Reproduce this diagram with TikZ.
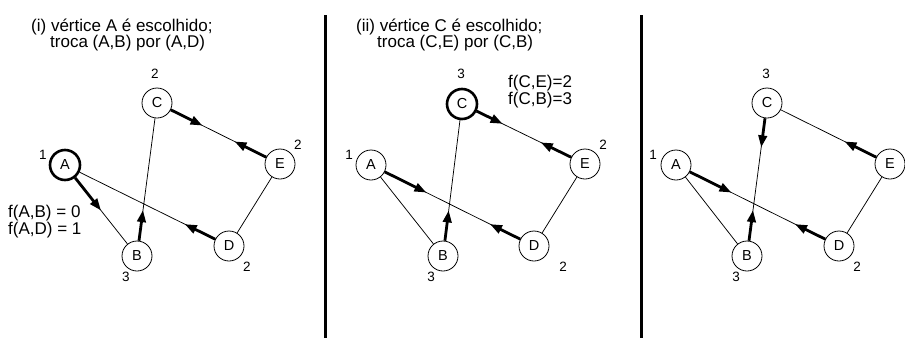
\documentclass[tikz,border=0pt]{standalone}
\usepackage{fontspec}
\setmainfont{Liberation Sans}
\usetikzlibrary{calc,arrows.meta}
\begin{document}
\begin{tikzpicture}[x=1pt,y=-1pt,
  vtx/.style={circle,draw,line width=0.8pt,minimum size=30pt,inner sep=0pt,font=\fontsize{14.5}{14.5}\selectfont},
  chosen/.style={line width=2.6pt},
  edge/.style={line width=0.75pt},
  half/.style={line width=2.8pt,-{Triangle[length=12pt,width=8.5pt]}},
  num/.style={font=\fontsize{13.5}{13.5}\selectfont,inner sep=0pt},
  txt/.style={font=\fontsize{17}{17}\selectfont,inner sep=0pt,anchor=west},
  divider/.style={line width=3pt}]
\useasboundingbox (0,0) rectangle (905,338);

% ---------- panel 1 ----------
\node[txt] (t1a) at (31,27) {(i) vértice A é escolhido;};
\node[txt] (t1b) at (50,43) {troca (A,B) por (A,D)};
\node[vtx,chosen] (a1) at (65,165) {A};
\node[vtx] (b1) at (137,256) {B};
\node[vtx] (c1) at (157,103) {C};
\node[vtx] (d1) at (229,246) {D};
\node[vtx] (e1) at (280,164) {E};
\draw[edge] (a1)--(b1) (b1)--(c1) (c1)--(e1) (e1)--(d1) (d1)--(a1);
\draw[half] (a1) -- ($(a1)!0.5!(b1)$);
\draw[half] (b1) -- ($(b1)!0.3!(c1)$);
\draw[half] (c1) -- ($(c1)!0.37!(e1)$);
\draw[half] (e1) -- ($(e1)!0.37!(c1)$);
\draw[half] (d1) -- ($(d1)!0.27!(a1)$);
\node[num] (na1) at (43,155) {1};
\node[num] (nb1) at (126,277) {3};
\node[num] (nc1) at (155,74) {2};
\node[num] (nd1) at (247,267) {2};
\node[num] (ne1) at (298,145) {2};
\node[txt] (f1a) at (8,213) {f(A,B) = 0};
\node[txt] (f1b) at (8,230) {f(A,D) = 1};

% ---------- divider 1 ----------
\coordinate (v1t) at (325,15);
\coordinate (v1b) at (325,338);
\draw[divider] (v1t) -- (v1b);

% ---------- panel 2 ----------
\node[txt] (t2a) at (356,27) {(ii) vértice C é escolhido;};
\node[txt] (t2b) at (377,43) {troca (C,E) por (C,B)};
\node[vtx] (a2) at (371,165) {A};
\node[vtx] (b2) at (443,256) {B};
\node[vtx,chosen] (c2) at (462,104) {C};
\node[vtx] (d2) at (534,246) {D};
\node[vtx] (e2) at (585,164) {E};
\draw[edge] (a2)--(b2) (b2)--(c2) (c2)--(e2) (e2)--(d2) (d2)--(a2);
\draw[half] (a2) -- ($(a2)!0.34!(d2)$);
\draw[half] (d2) -- ($(d2)!0.27!(a2)$);
\draw[half] (b2) -- ($(b2)!0.3!(c2)$);
\draw[half] (c2) -- ($(c2)!0.33!(e2)$);
\draw[half] (e2) -- ($(e2)!0.36!(c2)$);
\node[num] (na2) at (349,155) {1};
\node[num] (nb2) at (431,277) {3};
\node[num] (nc2) at (461,74) {3};
\node[num] (nd2) at (563,267) {2};
\node[num] (ne2) at (603,145) {2};
\node[txt] (f2a) at (508,83) {f(C,E)=2};
\node[txt] (f2b) at (508,100) {f(C,B)=3};

% ---------- divider 2 ----------
\coordinate (v2t) at (641,15);
\coordinate (v2b) at (641,338);
\draw[divider] (v2t) -- (v2b);

% ---------- panel 3 ----------
\node[vtx] (a3) at (676,165) {A};
\node[vtx] (b3) at (747,256) {B};
\node[vtx] (c3) at (767,103) {C};
\node[vtx] (d3) at (839,246) {D};
\node[vtx] (e3) at (890,164) {E};
\draw[edge] (a3)--(b3) (b3)--(c3) (c3)--(e3) (e3)--(d3) (d3)--(a3);
\draw[half] (a3) -- ($(a3)!0.34!(d3)$);
\draw[half] (d3) -- ($(d3)!0.27!(a3)$);
\draw[half] (b3) -- ($(b3)!0.3!(c3)$);
\draw[half] (c3) -- ($(c3)!0.29!(b3)$);
\draw[half] (e3) -- ($(e3)!0.37!(c3)$);
\node[num] (na3) at (653,155) {1};
\node[num] (nb3) at (736,277) {3};
\node[num] (nc3) at (766,74) {3};
\node[num] (nd3) at (857,267) {2};
\end{tikzpicture}
\end{document}
